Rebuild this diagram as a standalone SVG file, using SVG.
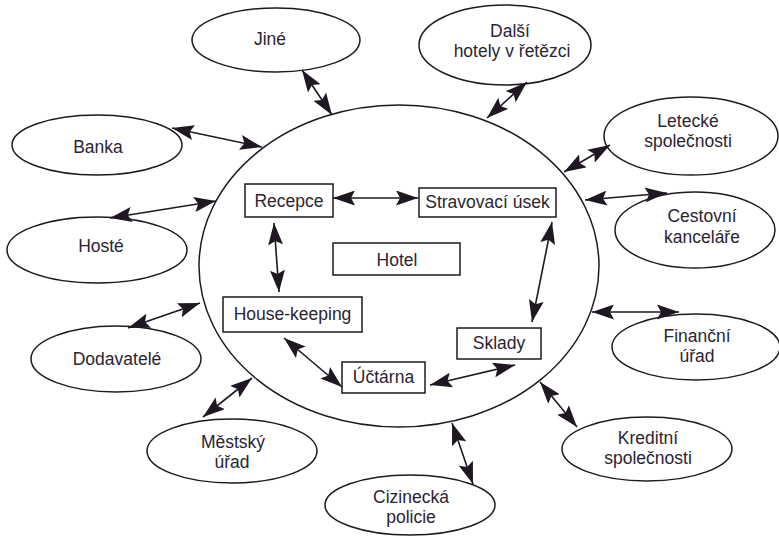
<svg xmlns="http://www.w3.org/2000/svg" width="779" height="538" viewBox="0 0 779 538">
<defs>
<marker id="ah" viewBox="0 0 22 15" markerUnits="userSpaceOnUse" markerWidth="22" markerHeight="15" refX="22" refY="7.5" orient="auto-start-reverse">
<path d="M0,0 L22,7.5 L0,15 L4,7.5 z" fill="#1f1822"/>
</marker>
</defs>
<style>
.bg{fill:#ffffff}
.e{fill:none;stroke:#1f1822;stroke-width:1.5}
.r{fill:#ffffff;stroke:#1f1822;stroke-width:1.5}
.t{font-family:"Liberation Sans",Arial,sans-serif;font-size:17.5px;fill:#2b2530;text-anchor:middle}
.c{stroke:#1f1822;stroke-width:1.6;fill:none;marker-start:url(#ah);marker-end:url(#ah)}
</style>
<rect class="bg" x="0" y="0" width="779" height="538"/>
<g id="hotel-boundary"><ellipse class="e" cx="399" cy="266" rx="200" ry="161"/></g>
<g id="jine"><ellipse class="e" cx="276" cy="40" rx="84" ry="32"/><text class="t" x="270" y="45">Jiné</text></g>
<g id="dalsi"><ellipse class="e" cx="505" cy="45" rx="86" ry="40"/><text class="t" x="510" y="37">Další</text><text class="t" x="512" y="57">hotely v řetězci</text></g>
<g id="letecke"><ellipse class="e" cx="691" cy="136" rx="87" ry="39"/><text class="t" x="688" y="127">Letecké</text><text class="t" x="688" y="147">společnosti</text></g>
<g id="cestovni"><ellipse class="e" cx="695" cy="230" rx="80" ry="38"/><text class="t" x="702" y="222">Cestovní</text><text class="t" x="702" y="243">kanceláře</text></g>
<g id="banka"><ellipse class="e" cx="97" cy="145" rx="85" ry="30"/><text class="t" x="98" y="153">Banka</text></g>
<g id="hoste"><ellipse class="e" cx="97" cy="250" rx="90" ry="33"/><text class="t" x="101" y="252">Hosté</text></g>
<g id="dodavatele"><ellipse class="e" cx="116" cy="359" rx="85" ry="33"/><text class="t" x="117" y="365">Dodavatelé</text></g>
<g id="mestsky"><ellipse class="e" cx="232" cy="451" rx="85" ry="32"/><text class="t" x="233" y="448">Městský</text><text class="t" x="232" y="468">úřad</text></g>
<g id="cizinecka"><ellipse class="e" cx="410" cy="505" rx="85" ry="30"/><text class="t" x="411" y="503">Cizinecká</text><text class="t" x="411" y="523">policie</text></g>
<g id="kreditni"><ellipse class="e" cx="647" cy="449" rx="85" ry="32"/><text class="t" x="648" y="444">Kreditní</text><text class="t" x="648" y="464">společnosti</text></g>
<g id="financni"><ellipse class="e" cx="696" cy="347" rx="84" ry="33"/><text class="t" x="697" y="342">Finanční</text><text class="t" x="697" y="362">úřad</text></g>
<g id="recepce"><rect class="r" x="245" y="184" width="88" height="33"/><text class="t" x="289" y="207">Recepce</text></g>
<g id="stravovaci"><rect class="r" x="419" y="188" width="137" height="29"/><text class="t" x="487.5" y="208">Stravovací úsek</text></g>
<g id="hotel"><rect class="r" x="333" y="243" width="127" height="32"/><text class="t" x="397" y="266">Hotel</text></g>
<g id="housekeeping"><rect class="r" x="223" y="297" width="139" height="35"/><text class="t" x="292.5" y="320">House-keeping</text></g>
<g id="uctarna"><rect class="r" x="342" y="362" width="83" height="31"/><text class="t" x="383.5" y="383">Účtárna</text></g>
<g id="sklady"><rect class="r" x="457" y="328" width="84" height="31"/><text class="t" x="499" y="349">Sklady</text></g>
<g id="connectors">
<line class="c" x1="302" y1="70" x2="332" y2="115"/>
<line class="c" x1="527" y1="82" x2="487" y2="118"/>
<line class="c" x1="610" y1="145" x2="564" y2="172"/>
<line class="c" x1="585" y1="200" x2="667" y2="193"/>
<line class="c" x1="172" y1="128" x2="262" y2="147"/>
<line class="c" x1="110" y1="218" x2="216" y2="201"/>
<line class="c" x1="128" y1="328" x2="200" y2="303"/>
<line class="c" x1="203" y1="417" x2="252" y2="378"/>
<line class="c" x1="452" y1="423" x2="473" y2="484"/>
<line class="c" x1="540" y1="382" x2="577" y2="427"/>
<line class="c" x1="592" y1="312" x2="679" y2="312"/>
<line class="c" x1="333" y1="198" x2="418" y2="198"/>
<line class="c" x1="274" y1="223" x2="279" y2="292"/>
<line class="c" x1="284" y1="338" x2="342" y2="387"/>
<line class="c" x1="430" y1="385" x2="515" y2="365"/>
<line class="c" x1="552" y1="222" x2="532" y2="322"/>
</g>
</svg>
